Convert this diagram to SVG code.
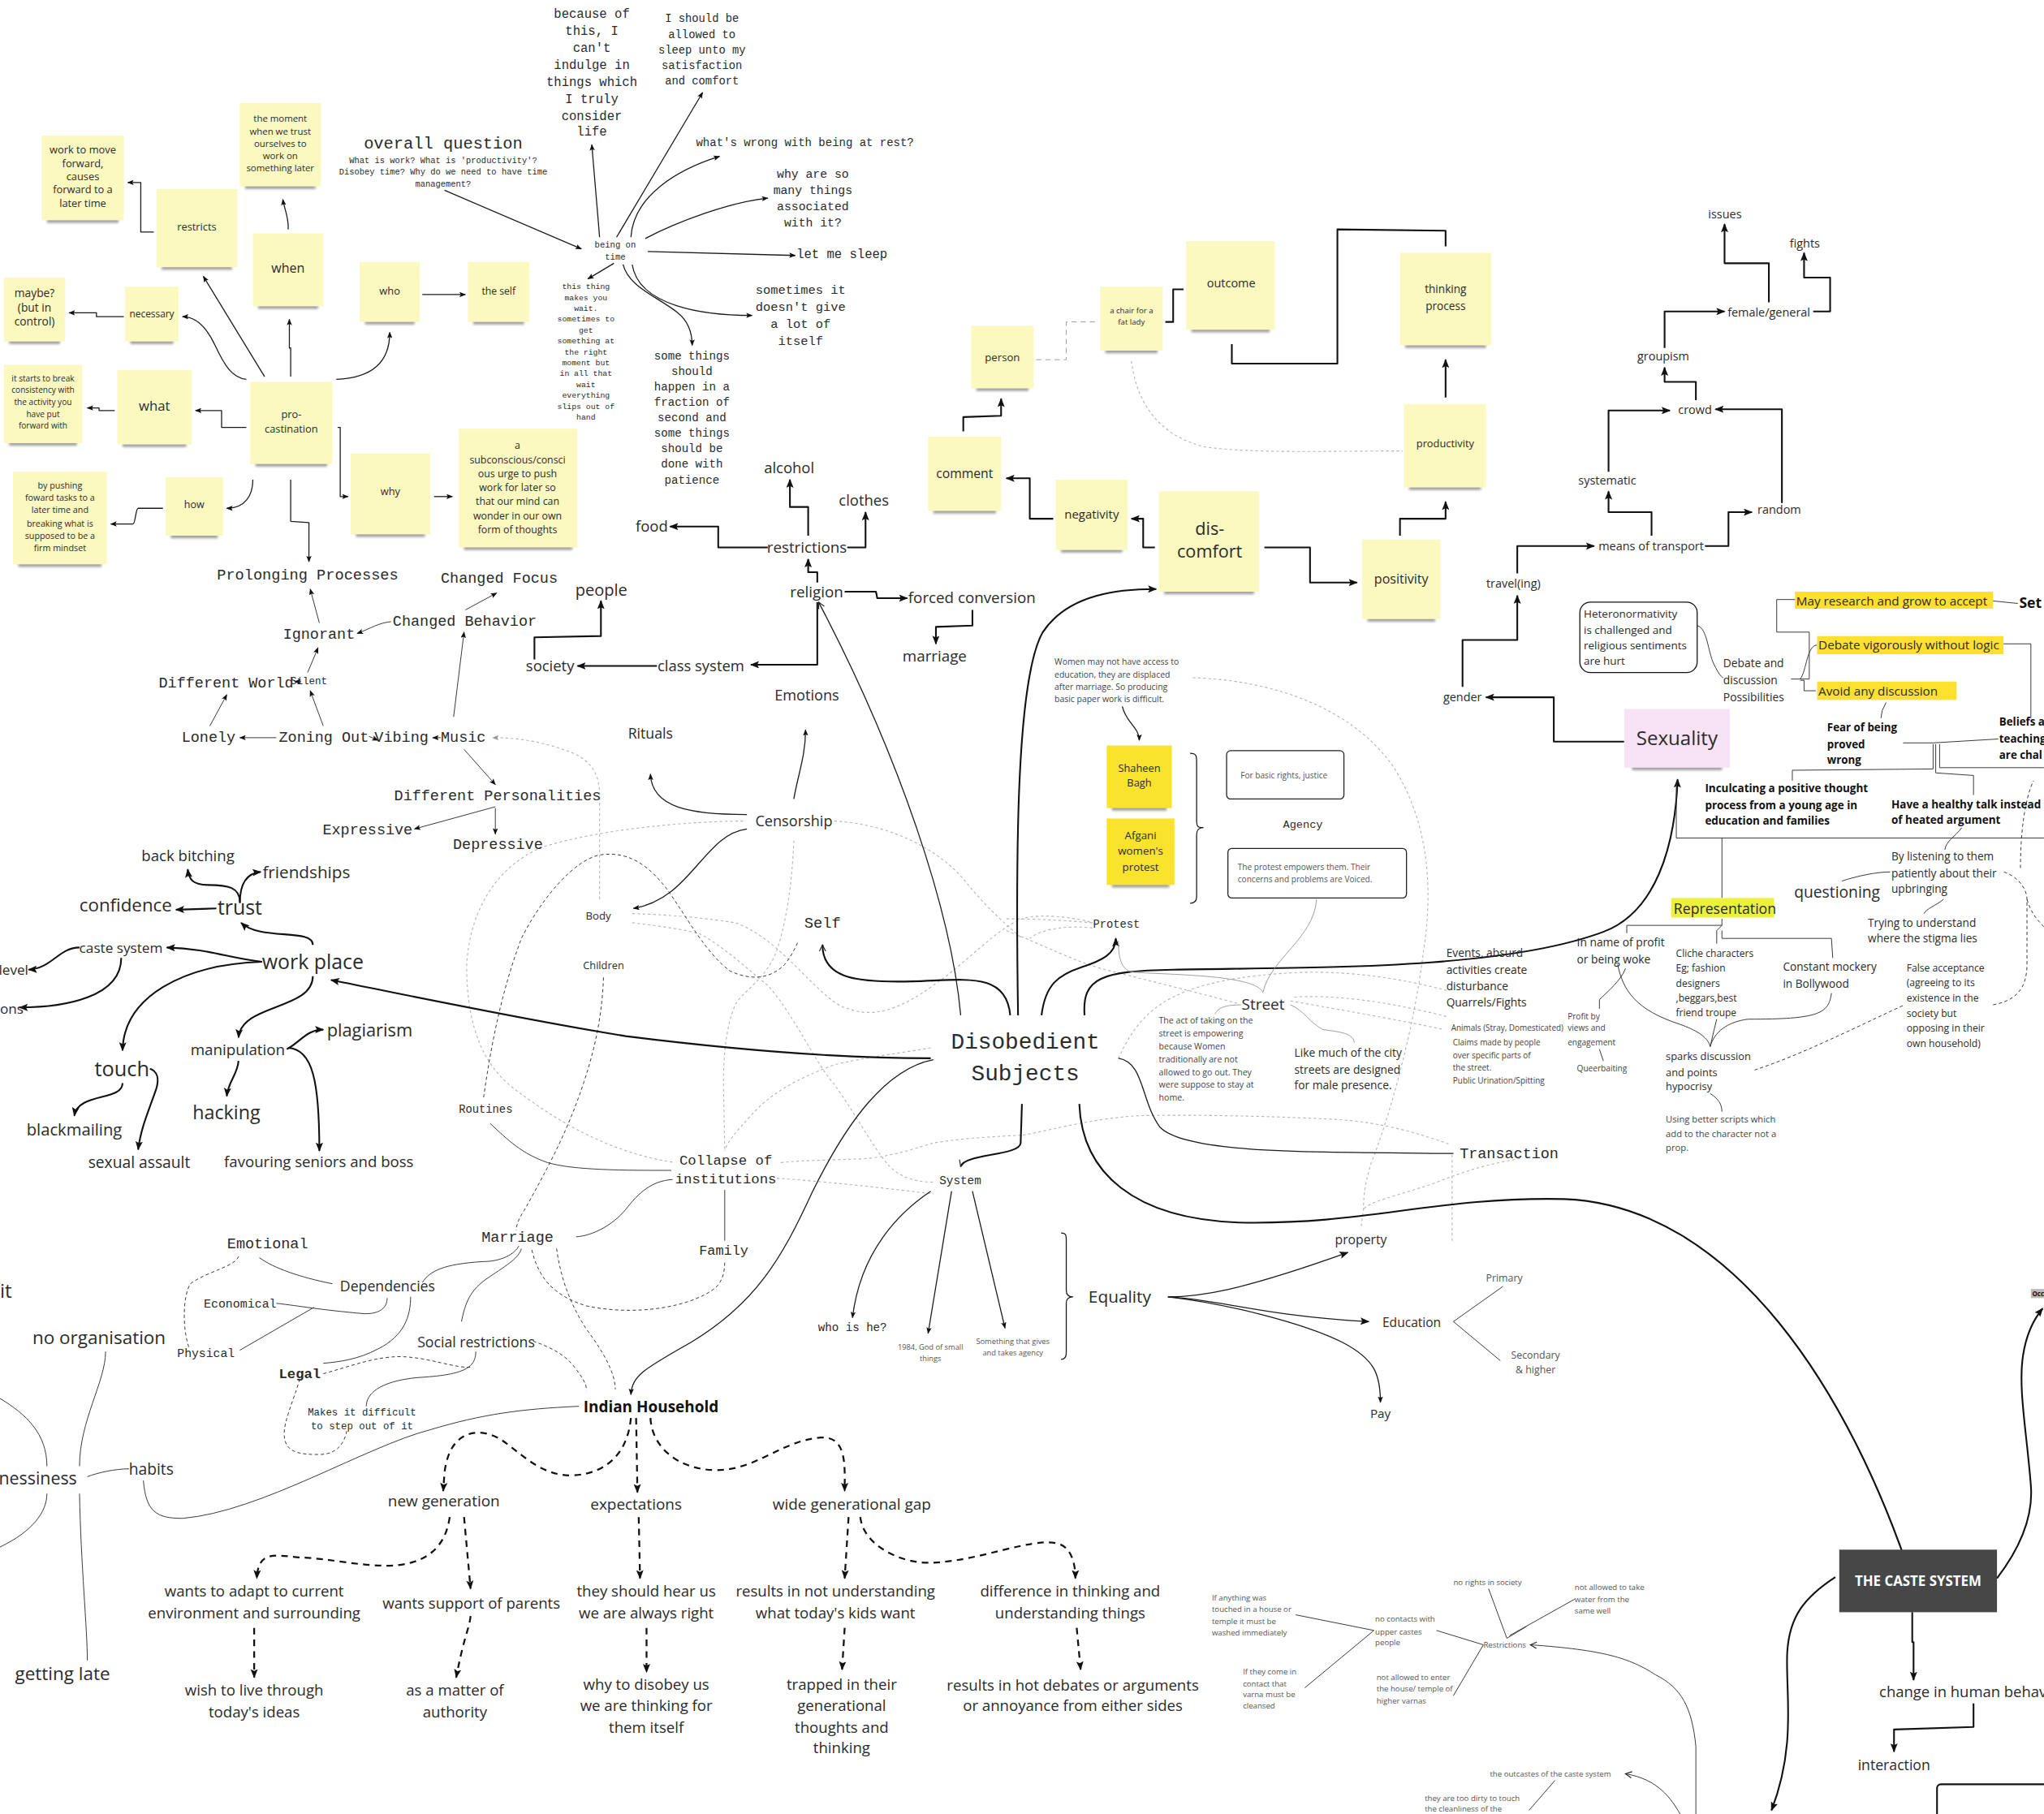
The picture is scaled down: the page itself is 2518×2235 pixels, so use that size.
<svg xmlns="http://www.w3.org/2000/svg" width="2518" height="2235" viewBox="0 0 2518 2235">
<defs>
<style>
.m{font-family:"Liberation Mono","DejaVu Sans Mono",monospace}
.s{font-family:"Open Sans","Noto Sans","Liberation Sans",sans-serif}
.c{text-anchor:middle}
.e{text-anchor:end}
.b{font-weight:bold;fill:#111}
.st{fill:#fbf8c0}
.sy{fill:#f9e32c}
.sh{fill:#555;opacity:.55;filter:url(#bl)}
.k{fill:none;stroke:#1a1a1a;stroke-width:.8;stroke-linejoin:round}
.t{fill:none;stroke:#111;stroke-width:1.3;stroke-linejoin:round}
.n{fill:none;stroke:#333;stroke-width:.6}
.g{fill:none;stroke:#b5b5b5;stroke-width:.7;stroke-dasharray:2 2}
.gs{fill:none;stroke:#9a9a9a;stroke-width:.6}
.d{fill:none;stroke:#333;stroke-width:.6;stroke-dasharray:2.5 2}
.bd{fill:none;stroke:#111;stroke-width:1.4;stroke-dasharray:5 4}
.hl{fill:#ffe02e}
</style>
<filter id="bl" x="-20%" y="-200%" width="140%" height="500%"><feGaussianBlur stdDeviation="1"/></filter>
<marker id="ah" viewBox="0 0 10 8" refX="9" refY="4" markerWidth="7" markerHeight="5.6" orient="auto" markerUnits="userSpaceOnUse"><path d="M0,0 L10,4 L0,8 L2,4 z" fill="#111"/></marker>
<marker id="as" viewBox="0 0 10 8" refX="9" refY="4" markerWidth="5" markerHeight="4" orient="auto" markerUnits="userSpaceOnUse"><path d="M0,0 L10,4 L0,8 L2,4 z" fill="#111"/></marker>
<marker id="ao" viewBox="0 0 10 10" refX="9" refY="5" markerWidth="6" markerHeight="6" orient="auto" markerUnits="userSpaceOnUse"><path d="M1,1 L9,5 L1,9" fill="none" stroke="#222" stroke-width="1.2"/></marker>
<marker id="ag" viewBox="0 0 10 8" refX="9" refY="4" markerWidth="5" markerHeight="4" orient="auto" markerUnits="userSpaceOnUse"><path d="M0,0 L10,4 L0,8 L2,4 z" fill="#999"/></marker>
</defs>
<rect width="2518" height="2235" fill="#fff"/>
<g transform="scale(1.6058)" fill="#2b2b2b">
<g id="connectors">
<!-- gray dotted background web -->
<path class="g" d="M640,630 C680,632 720,650 742,678 C760,700 775,712 784,720"/>
<path class="g" d="M570,630 C530,630 460,636 416,650 C380,665 360,700 358,741 C358,790 372,820 398,838 C430,862 470,885 518,892"/>
<path class="g" d="M609,645 C608,670 605,700 597,726 C590,750 570,760 564,771 C556,790 555,815 555,832 L556,883"/>
<path class="g" d="M485,701 C520,702 545,705 564,708 C600,720 630,770 651,774 C670,781 690,775 716,756 C740,740 765,712 784,705 C800,700 830,705 838,708"/>
<path class="g" d="M485,708 C510,711 530,714 538,717 C560,730 575,745 589,756 C610,780 625,815 640,832 C660,860 675,890 686,898 C695,905 705,907 716,907"/>
<path class="g" d="M714,804 C690,808 660,812 640,817 C610,828 590,840 576,856 C565,868 558,876 556,883"/>
<path class="g" d="M599,892 C620,890 640,890 665,889 C690,886 705,880 716,877 C740,873 765,872 784,871"/>
<path class="g" d="M596,904 C640,907 690,913 716,916"/>
<path class="g" d="M838,708 C815,706 795,705 772,705"/>
<path class="g" d="M838,712 C820,710 800,712 790,720"/>
<path class="g" d="M772,714 C800,725 825,738 848,744 C880,752 920,762 950,770"/>
<path class="g" d="M990,768 C1030,775 1070,782 1108,790"/>
<path class="g" d="M993,765 C1030,763 1070,770 1110,780"/>
<path class="g" d="M858,812 C868,790 880,775 900,765 C920,755 950,748 1000,746 C1040,745 1080,752 1110,760"/>
<path class="g" d="M915,520 C980,522 1040,545 1070,590 C1095,630 1100,680 1092,730 C1085,790 1065,860 1052,892 C1048,905 1046,915 1046,928 L1044,943"/>
<path class="g" d="M1114,886 L1114,953"/>
<path class="g" d="M1166,889 C1140,893 1120,900 1100,908 C1070,918 1050,922 1046,928"/>
<path class="g" d="M785,871 C810,866 840,858 874,856 C930,855 990,857 1026,859 C1060,861 1090,870 1112,878"/>
<path class="g" d="M868,277 C872,310 890,335 925,343 C960,348 1020,346 1076,346"/>
<path class="g" marker-end="url(#ag)" d="M460,690 L460,611 C460,595 455,585 440,578 C420,570 400,566 378,566"/>
<path class="d" d="M371,842 C377,800 385,760 400,720 C415,690 440,660 460,656 C485,652 500,668 510,680 C525,700 540,730 560,745 C575,752 590,752 602,740 C606,735 610,728 612,723"/>
<path class="d" d="M463,750 C462,775 458,800 448,830 C435,870 418,900 402,929 C398,935 396,940 396,944"/>
<!-- procrastination cluster -->
<path class="k" marker-end="url(#as)" d="M203,289 L156,212"/>
<path class="k" marker-end="url(#as)" d="M189,291 C178,290 172,280 165,265 C158,250 150,243 140,243"/>
<path class="k" marker-end="url(#as)" d="M95,243 L74,243 L74,240 L53,240"/>
<path class="k" marker-end="url(#as)" d="M118,178 L108,178 L108,140 L98,140"/>
<path class="k" marker-end="url(#as)" d="M223,289 L223,267 L222,267 L222,245"/>
<path class="k" marker-end="url(#as)" d="M221,176 C222,168 218,160 217,153"/>
<path class="k" marker-end="url(#as)" d="M258,291 C285,290 299,278 299,255"/>
<path class="k" marker-end="url(#as)" d="M324,226 L357,226"/>
<path class="k" marker-end="url(#as)" d="M189,328 L170,328 L170,315 L150,315"/>
<path class="k" marker-end="url(#as)" d="M88,315 L76,315 L76,313 L67,313"/>
<path class="k" marker-end="url(#as)" d="M194,368 C194,380 188,390 174,390"/>
<path class="k" marker-end="url(#as)" d="M125,390 L106,390 C104,390 104,402 102,402 L85,402"/>
<path class="k" marker-end="url(#as)" d="M259,328 L261,328 L261,381 L267,381"/>
<path class="k" marker-end="url(#as)" d="M333,381 L347,381"/>
<path class="k" marker-end="url(#as)" d="M223,368 L223,400 L237,401 L237,431"/>
<!-- being on time -->
<path class="k" marker-end="url(#as)" d="M341,146 L446,191"/>
<path class="k" marker-end="url(#as)" d="M460,182 L454,111"/>
<path class="k" marker-end="url(#as)" d="M473,182 L539,71"/>
<path class="k" marker-end="url(#as)" d="M484,182 C486,150 520,130 552,120"/>
<path class="k" marker-end="url(#as)" d="M495,183 C520,170 560,155 589,152"/>
<path class="k" marker-end="url(#as)" d="M497,193 L610,196"/>
<path class="k" marker-end="url(#as)" d="M485,203 C490,235 540,242 577,242"/>
<path class="k" marker-end="url(#as)" d="M478,203 C482,220 505,228 520,240 C530,248 531,258 531,265"/>
<path class="k" marker-end="url(#as)" d="M471,202 L451,214"/>
<!-- mono cluster -->
<path class="n" marker-end="url(#as)" d="M245,478 L238,452"/>
<path class="n" marker-end="url(#as)" d="M300,477 C290,478 285,482 274,486"/>
<path class="n" marker-end="url(#as)" d="M357,468 L381,455"/>
<path class="n" marker-end="url(#as)" d="M236,516 L244,497"/>
<path class="n" marker-end="url(#as)" d="M231,523 L226,523"/>
<path class="n" marker-end="url(#as)" d="M248,557 L238,530"/>
<path class="n" marker-end="url(#as)" d="M161,557 L174,533"/>
<path class="n" marker-end="url(#as)" d="M212,566 L184,566"/>
<path class="n" marker-end="url(#as)" d="M283,565 L290,568"/>
<path class="n" marker-end="url(#as)" d="M338,566 L332,566"/>
<path class="n" marker-end="url(#as)" d="M348,550 L356,485"/>
<path class="n" marker-end="url(#as)" d="M356,575 L380,602"/>
<path class="n" marker-end="url(#as)" d="M380,619 L318,636"/>
<path class="n" marker-end="url(#as)" d="M380,620 L380,640"/>
<!-- work place -->
<path class="t" marker-end="url(#ah)" d="M240,725 C240,712 200,722 185,708"/>
<path class="t" marker-end="url(#ah)" d="M184,692 C184,681 175,679 160,679 C148,679 145,675 144,667"/>
<path class="t" marker-end="url(#ah)" d="M184,693 C184,680 188,670 200,669"/>
<path class="t" marker-end="url(#ah)" d="M166,697 L135,698"/>
<path class="t" marker-end="url(#ah)" d="M201,738 C175,735 160,728 128,727"/>
<path class="t" marker-end="url(#ah)" d="M61,727 C45,727 40,743 22,744"/>
<path class="t" marker-end="url(#ah)" d="M93,735 C93,765 50,773 15,773"/>
<path class="t" marker-end="url(#ah)" d="M201,738 C140,740 95,765 94,806"/>
<path class="t" marker-end="url(#ah)" d="M240,749 C240,775 185,770 183,796"/>
<path class="t" marker-end="url(#ah)" d="M220,805 C230,800 235,790 248,790"/>
<path class="t" marker-end="url(#ah)" d="M183,814 C182,825 175,830 174,841"/>
<path class="t" marker-end="url(#ah)" d="M221,804 C240,805 245,830 245,883"/>
<path class="t" marker-end="url(#ah)" d="M94,831 C94,845 60,838 57,856"/>
<path class="t" marker-end="url(#ah)" d="M115,820 C121,822 122,828 120,835 C115,850 108,865 106,882"/>
<path class="t" marker-end="url(#ah)" d="M714,812 C640,812 560,805 480,795 C400,782 320,765 254,752"/>
<!-- religion -->
<path class="t" marker-end="url(#ah)" d="M589,420 L551,420 L551,404 L514,404"/>
<path class="t" marker-end="url(#ah)" d="M620,411 L620,389 L606,389 L606,368"/>
<path class="t" marker-end="url(#ah)" d="M650,420 L664,420 L664,393"/>
<path class="t" marker-end="url(#ah)" d="M627,447 L627,439 L620,439 L620,429"/>
<path class="t" marker-end="url(#ah)" d="M648,454 L672,454 L673,459 L696,459"/>
<path class="t" marker-end="url(#ah)" d="M746,468 L746,480 L718,481 L718,494"/>
<path class="t" marker-end="url(#ah)" d="M627,462 L627,510 L576,510"/>
<path class="t" marker-end="url(#ah)" d="M504,511 L443,511"/>
<path class="t" marker-end="url(#ah)" d="M410,506 L410,489 L461,488 L461,461"/>
<path class="k" marker-end="url(#ao)" d="M737,779 C730,700 690,580 628,462"/>
<!-- censorship / center -->
<path class="k" marker-end="url(#as)" d="M573,625 C530,625 500,620 499,594"/>
<path class="k" marker-end="url(#as)" d="M609,613 C612,595 618,580 618,560"/>
<path class="k" marker-end="url(#as)" d="M573,636 C540,640 530,690 486,697"/>
<path class="t" marker-end="url(#ao)" d="M775,779 C772,745 740,752 700,753 C660,754 631,752 631,725"/>
<path class="t" marker-end="url(#ah)" d="M799,779 C802,755 812,748 830,742 C845,737 856,732 856,720"/>
<path class="t" marker-end="url(#ah)" d="M781,779 C779,650 780,520 800,485 C820,455 860,452 887,452"/>
<path class="t" marker-end="url(#ah)" d="M832,779 C830,750 845,745 900,744 C1000,742 1150,745 1230,715 C1270,700 1285,650 1287,598"/>
<path class="t" marker-end="url(#ao)" d="M784,847 L783,877 C782,887 740,885 737,895"/>
<path class="t" marker-end="url(#ah)" d="M828,847 C830,900 870,935 950,938 C1050,940 1100,918 1200,920 C1330,925 1420,1070 1467,1213"/>
<path class="k" marker-end="url(#as)" d="M716,813 C680,820 650,860 623,915 C600,965 580,1000 530,1030 C495,1050 485,1055 484,1070"/>
<path class="k" d="M858,812 C878,815 875,845 890,865 C910,885 1000,884 1115,885"/>
<!-- street / protest -->
<path class="gs" d="M969,762 C965,748 900,748 870,746 C860,745 858,735 858,722"/>
<path class="gs" d="M1010,690 C1008,720 975,735 969,761"/>
<path class="gs" d="M952,771 C940,771 935,773 932,778"/>
<path class="gs" d="M990,771 C1000,775 1005,785 1015,790 C1030,792 1038,793 1039,800"/>
<path class="k" marker-end="url(#as)" d="M861,542 C864,555 874,558 874,568"/>
<path class="k" d="M913,578 C918,578 918,580 918,585 L918,630 C918,635 920,635 923,635 C920,635 918,636 918,641 L918,688 C918,692 916,693 913,693"/>
<!-- system / equality -->
<path class="k" marker-end="url(#as)" d="M714,914 C690,930 660,960 654,1011"/>
<path class="k" marker-end="url(#as)" d="M730,914 L712,1023"/>
<path class="k" marker-end="url(#as)" d="M746,914 L771,1019"/>
<path class="k" d="M814,946 C818,946 818,948 818,952 L818,990 C818,994 820,995 823,995 C820,995 818,996 818,1000 L818,1038 C818,1042 816,1043 814,1043"/>
<path class="k" marker-end="url(#ah)" d="M896,995 C920,995 950,991 1034,961"/>
<path class="k" marker-end="url(#ah)" d="M896,995 C930,996 970,1010 1050,1014"/>
<path class="k" marker-end="url(#as)" d="M896,995 C940,1000 1000,1015 1030,1030 C1055,1043 1059,1055 1059,1076"/>
<path class="n" d="M1153,987 L1115,1014 L1151,1044"/>
<!-- transport -->
<path class="t" marker-end="url(#ah)" d="M1246,569 L1192,569 L1192,535 L1140,535"/>
<path class="t" marker-end="url(#ah)" d="M1122,527 L1122,491 L1164,491 L1164,457"/>
<path class="t" marker-end="url(#ah)" d="M1164,440 L1164,419 L1223,419"/>
<path class="t" marker-end="url(#ah)" d="M1267,411 L1267,393 L1234,393 L1234,377"/>
<path class="t" marker-end="url(#ah)" d="M1308,419 L1326,419 L1326,393 L1344,393"/>
<path class="t" marker-end="url(#ah)" d="M1234,362 L1234,315 L1281,315"/>
<path class="t" marker-end="url(#ah)" d="M1367,386 L1367,314 L1316,314"/>
<path class="t" marker-end="url(#ah)" d="M1301,307 L1301,293 L1277,293 L1277,282"/>
<path class="t" marker-end="url(#ah)" d="M1277,267 L1277,239 L1323,239"/>
<path class="t" marker-end="url(#ah)" d="M1357,232 L1357,202 L1323,202 L1323,172"/>
<path class="t" marker-end="url(#ah)" d="M1391,239 L1404,239 L1404,213 L1384,213 L1384,194"/>
<!-- discomfort chain -->
<path class="t" marker-end="url(#ah)" d="M739,331 L739,320 L768,319 L768,306"/>
<path class="t" marker-end="url(#ah)" d="M808,398 L790,398 L790,367 L772,367"/>
<path class="t" marker-end="url(#ah)" d="M886,420 L877,420 L877,398 L868,398"/>
<path class="t" marker-end="url(#ah)" d="M970,420 L1005,420 L1005,447 L1041,447"/>
<path class="t" marker-end="url(#ah)" d="M1074,411 L1074,398 L1109,398 L1109,385"/>
<path class="t" marker-end="url(#ah)" d="M1109,305 L1109,276"/>
<path class="t" d="M1109,189 L1109,177 L1026,176 L1026,279 L945,279 L945,264"/>
<path class="t" d="M894,247 L900,247 L900,222 L908,222"/>
<path class="gs" stroke-dasharray="4 3" d="M795,276 L818,276 L818,247 L842,247"/>
<!-- sexuality side -->
<path class="n" d="M1302,480 C1310,482 1310,500 1315,510 C1318,516 1320,519 1322,520"/>
<path class="n" d="M1374,521 L1388,521 L1388,485 L1363,485 L1363,460 L1378,460"/>
<path class="n" d="M1381,521 C1386,515 1386,495 1394,495"/>
<path class="n" d="M1381,522 L1384,522 L1384,530 L1393,530"/>
<path class="n" d="M1528,461 L1548,463"/>
<path class="n" d="M1537,494 L1558,494 L1558,551"/>
<path class="n" d="M1447,539 L1444,545 L1443,551"/>
<path class="n" d="M1460,570 L1483,570 L1533,567"/>
<path class="n" d="M1483,571 L1483,590 L1375,591 L1375,599"/>
<path class="n" d="M1488,571 L1488,589 L1568,589"/>
<path class="n" d="M1485,571 L1485,593 L1514,595 L1514,610"/>
<path class="n" d="M1286,600 L1286,643 L1568,643"/>
<path class="n" d="M1321,643 L1321,689"/>
<path class="n" d="M1505,635 C1500,642 1493,645 1492,652"/>
<path class="n" d="M1413,676 C1425,672 1440,669 1450,669"/>
<path class="n" d="M1491,690 C1485,695 1478,697 1476,701"/>
<path class="n" d="M1321,705 L1321,710 L1248,710 L1248,716"/>
<path class="n" d="M1321,710 L1317,714 L1317,724"/>
<path class="n" d="M1321,714 L1321,720 L1405,720 L1406,735"/>
<path class="n" d="M1247,743 C1244,752 1232,762 1227,767 L1227,774"/>
<path class="n" d="M1227,805 L1230,814"/>
<path class="n" d="M1241,740 C1245,760 1255,775 1289,786 C1300,790 1310,795 1312,803"/>
<path class="n" d="M1317,782 L1315,790 L1312,803"/>
<path class="n" d="M1405,762 C1403,778 1395,782 1341,782 C1325,784 1315,792 1312,803"/>
<path class="n" d="M1312,839 C1318,843 1321,847 1321,853"/>
<path class="d" d="M1346,821 C1380,810 1420,790 1461,771"/>
<path class="d" d="M1529,771 C1545,768 1555,760 1555,740 L1555,690 C1555,680 1545,671 1537,669"/>
<path class="d" d="M1550,666 C1550,640 1553,614 1560,599"/>
<path class="d" d="M1555,690 C1558,700 1562,705 1568,711"/>
<!-- left bottom -->
<path class="n" d="M61,1125 C61,1090 81,1060 81,1037"/>
<path class="n" d="M61,1146 C62,1200 67,1250 67,1274"/>
<path class="n" d="M0,1073 C20,1085 36,1100 36,1125"/>
<path class="n" d="M36,1146 C36,1160 25,1175 0,1187"/>
<path class="n" d="M67,1133 C75,1130 88,1127 99,1127"/>
<path class="n" d="M110,1136 C112,1160 120,1165 140,1165 C200,1160 280,1110 330,1097 C370,1085 400,1081 444,1079"/>
<path class="n" d="M199,965 C210,973 230,980 255,985"/>
<path class="n" d="M212,1000 C230,1002 245,1005 280,1008 C292,1008 297,1003 297,996"/>
<path class="n" d="M184,1036 L241,1003"/>
<path class="n" d="M248,1046 C260,1045 275,1043 290,1035 C310,1025 315,1010 315,995"/>
<path class="n" d="M324,984 C330,975 340,970 370,968 C385,968 395,962 398,956"/>
<path class="n" d="M354,1014 C357,1000 360,990 375,980 C390,970 398,965 400,958"/>
<path class="n" d="M365,1037 C365,1050 355,1055 320,1057 C290,1060 281,1070 281,1079"/>
<path class="d" d="M183,964 C180,972 160,975 146,985 C140,995 140,1020 145,1034"/>
<path class="d" d="M248,1054 C270,1048 290,1040 310,1041 C330,1042 350,1050 361,1049"/>
<path class="d" d="M230,1058 C225,1075 218,1090 218,1100 C218,1115 230,1116 245,1116 C258,1116 264,1108 266,1098"/>
<path class="n" d="M376,862 C390,875 400,885 420,892 C440,898 480,898 515,898"/>
<path class="n" d="M516,905 C500,906 490,915 480,928 C470,940 455,948 442,949"/>
<path class="n" d="M556,913 L556,952"/>
<path class="d" d="M408,959 C413,980 424,994 450,1002 C488,1010 530,1003 549,988 C555,982 556,975 556,967"/>
<path class="d" d="M427,958 C430,980 437,1000 450,1020 C465,1040 472,1055 472,1066"/>
<path class="d" d="M409,1029 C420,1033 432,1038 440,1048 C447,1057 450,1062 450,1067"/>
<!-- indian household dashed -->
<path class="bd" marker-end="url(#ah)" d="M484,1088 C482,1110 470,1130 440,1132 C415,1133 400,1115 385,1105 C370,1095 345,1095 341,1130 L340,1144"/>
<path class="bd" marker-end="url(#ah)" d="M488,1088 L489,1145"/>
<path class="bd" marker-end="url(#ah)" d="M499,1088 C500,1110 520,1128 550,1128 C580,1128 600,1105 630,1103 C650,1102 648,1125 648,1144"/>
<path class="bd" marker-end="url(#ah)" d="M345,1164 C342,1185 330,1198 305,1201 C280,1203 250,1195 229,1195 C210,1193 198,1190 197,1211"/>
<path class="bd" marker-end="url(#ah)" d="M356,1164 L361,1219"/>
<path class="bd" marker-end="url(#ah)" d="M195,1249 L195,1287"/>
<path class="bd" marker-end="url(#ah)" d="M361,1240 C360,1250 356,1255 350,1287"/>
<path class="bd" marker-end="url(#ah)" d="M490,1164 L491,1211"/>
<path class="bd" marker-end="url(#ah)" d="M496,1249 L496,1283"/>
<path class="bd" marker-end="url(#ah)" d="M651,1164 L648,1211"/>
<path class="bd" marker-end="url(#ah)" d="M648,1249 L646,1281"/>
<path class="bd" marker-end="url(#ah)" d="M660,1164 C662,1185 690,1200 715,1199 C750,1198 790,1180 810,1184 C822,1186 825,1200 825,1211"/>
<path class="bd" marker-end="url(#ah)" d="M826,1249 L829,1281"/>
<!-- caste -->
<path class="n" d="M994,1239 L1054,1251"/>
<path class="n" d="M1001,1295 L1054,1251"/>
<path class="n" d="M1102,1251 L1138,1262"/>
<path class="n" d="M1115,1301 L1138,1262"/>
<path class="n" d="M1142,1219 L1156,1257 L1171,1248"/>
<path class="n" d="M1158,1255 L1208,1227"/>
<path class="n" marker-end="url(#ao)" d="M1301,1392 L1301,1340 C1298,1310 1290,1295 1270,1285 C1250,1272 1230,1266 1174,1262"/>
<path class="n" marker-end="url(#ao)" d="M1289,1392 C1282,1380 1272,1365 1247,1361"/>
<path class="n" d="M1193,1366 L1173,1389"/>
<path class="t" marker-end="url(#ah)" d="M1467,1237 L1467,1260 L1468,1260 L1468,1289"/>
<path class="t" marker-end="url(#ah)" d="M1514,1307 L1514,1325 L1453,1327 L1453,1344"/>
<path class="t" marker-end="url(#ah)" d="M1408,1210 C1385,1225 1372,1240 1371,1270 C1370,1300 1378,1340 1359,1389"/>
<path class="t" marker-end="url(#ah)" d="M1532,1211 C1548,1190 1560,1165 1558,1140 C1555,1100 1548,1065 1552,1040 C1555,1020 1562,1010 1567,1004"/>
</g>

<!-- sticky notes: procrastination -->
<g id="n-work"><rect class="sh" x="36" y="167" width="55" height="4"/><rect class="st" x="32" y="104" width="63" height="65"/><text class="s c" font-size="8"><tspan x="63.5" y="118">work to move</tspan><tspan x="63.5" y="128">forward,</tspan><tspan x="63.5" y="138.5">causes</tspan><tspan x="63.5" y="148">forward to a</tspan><tspan x="63.5" y="158.5">later time</tspan></text></g>
<g id="n-restricts"><rect class="sh" x="124" y="203" width="54" height="4"/><rect class="st" x="120" y="145" width="62" height="60"/><text class="s c" x="151" y="177" font-size="8">restricts</text></g>
<g id="n-moment"><rect class="sh" x="188" y="141" width="54" height="4"/><rect class="st" x="184" y="79" width="62" height="64"/><text class="s c" font-size="7.1"><tspan x="215" y="93.4">the moment</tspan><tspan x="215" y="103.2">when we trust</tspan><tspan x="215" y="112.7">ourselves to</tspan><tspan x="215" y="122.3">work on</tspan><tspan x="215" y="131.5">something later</tspan></text></g>
<g id="n-when"><rect class="sh" x="198" y="233" width="46" height="4"/><rect class="st" x="194" y="179" width="54" height="56"/><text class="s c" x="221" y="209" font-size="10">when</text></g>
<g id="n-who"><rect class="sh" x="280" y="245" width="38" height="4"/><rect class="st" x="276" y="201" width="46" height="46"/><text class="s c" x="299" y="226" font-size="8">who</text></g>
<g id="n-self"><rect class="sh" x="363" y="245" width="39" height="4"/><rect class="st" x="359" y="201" width="47" height="46"/><text class="s c" x="382.5" y="226" font-size="7.6">the self</text></g>
<g id="n-maybe"><rect class="sh" x="7" y="260" width="39" height="4"/><rect class="st" x="3" y="213" width="47" height="49"/><text class="s c" font-size="8.6"><tspan x="26.5" y="228">maybe?</tspan><tspan x="26.5" y="239">(but in</tspan><tspan x="26.5" y="250">control)</tspan></text></g>
<g id="n-necessary"><rect class="sh" x="100" y="260" width="33" height="4"/><rect class="st" x="96" y="220" width="41" height="42"/><text class="s c" x="116.5" y="243.3" font-size="7.4">necessary</text></g>
<g id="n-breaks"><rect class="sh" x="7" y="338" width="52" height="4"/><rect class="st" x="3" y="280" width="60" height="60"/><text class="s c" font-size="6.3"><tspan x="33" y="292.6">it starts to break</tspan><tspan x="33" y="301.6">consistency with</tspan><tspan x="33" y="310.8">the activity you</tspan><tspan x="33" y="320.1">have put</tspan><tspan x="33" y="329">forward with</tspan></text></g>
<g id="n-what"><rect class="sh" x="94" y="339" width="49" height="4"/><rect class="st" x="90" y="284" width="57" height="57"/><text class="s c" x="118.5" y="315" font-size="10.4">what</text></g>
<g id="n-pro"><rect class="sh" x="196" y="354" width="55" height="4"/><rect class="st" x="192" y="293" width="63" height="63"/><text class="s c" font-size="8"><tspan x="223.5" y="320.8">pro-</tspan><tspan x="223.5" y="331.8">castination</tspan></text></g>
<g id="n-pushing"><rect class="sh" x="14" y="431" width="64" height="4"/><rect class="st" x="10" y="362" width="72" height="71"/><text class="s c" font-size="6.7"><tspan x="46" y="374.7">by pushing</tspan><tspan x="46" y="384.2">foward tasks to a</tspan><tspan x="46" y="393.7">later time and</tspan><tspan x="46" y="403.9">breaking what is</tspan><tspan x="46" y="413.4">supposed to be a</tspan><tspan x="46" y="422.9">firm mindset</tspan></text></g>
<g id="n-how"><rect class="sh" x="131" y="409" width="36" height="4"/><rect class="st" x="127" y="366" width="44" height="45"/><text class="s c" x="149" y="390" font-size="7.8">how</text></g>
<g id="n-why"><rect class="sh" x="273" y="408" width="53" height="4"/><rect class="st" x="269" y="348" width="61" height="62"/><text class="s c" x="299.5" y="380" font-size="8">why</text></g>
<g id="n-urge"><rect class="sh" x="356" y="418" width="83" height="4"/><rect class="st" x="352" y="329" width="91" height="91"/><text class="s c" font-size="7.7"><tspan x="397" y="344.4">a</tspan><tspan x="397" y="355.4">subconscious/consci</tspan><tspan x="397" y="366.1">ous urge to push</tspan><tspan x="397" y="376.9">work for later so</tspan><tspan x="397" y="387.6">that our mind can</tspan><tspan x="397" y="398.3">wonder in  our own</tspan><tspan x="397" y="409">form of thoughts</tspan></text></g>

<!-- sticky notes: discomfort -->
<g id="n-person"><rect class="sh" x="749" y="296" width="40" height="4"/><rect class="st" x="745" y="250" width="48" height="48"/><text class="s c" x="769" y="277" font-size="8.2">person</text></g>
<g id="n-comment"><rect class="sh" x="716" y="390" width="48" height="4"/><rect class="st" x="712" y="335" width="56" height="57"/><text class="s c" x="740" y="366.5" font-size="9.8">comment</text></g>
<g id="n-chair"><rect class="sh" x="848" y="267" width="40" height="4"/><rect class="st" x="844" y="220" width="48" height="49"/><text class="s c" font-size="6"><tspan x="868" y="240.4">a chair for a</tspan><tspan x="868" y="249.4">fat lady</tspan></text></g>
<g id="n-outcome"><rect class="sh" x="914" y="251" width="60" height="4"/><rect class="st" x="910" y="185" width="68" height="68"/><text class="s c" x="944.5" y="220.7" font-size="9">outcome</text></g>
<g id="n-thinking"><rect class="sh" x="1078" y="263" width="62" height="4"/><rect class="st" x="1074" y="194" width="70" height="71"/><text class="s c" font-size="8.5"><tspan x="1109" y="225">thinking</tspan><tspan x="1109" y="237.7">process</tspan></text></g>
<g id="n-productivity"><rect class="sh" x="1081" y="372" width="55" height="4"/><rect class="st" x="1077" y="310" width="63" height="64"/><text class="s c" x="1108.7" y="343" font-size="8">productivity</text></g>
<g id="n-negativity"><rect class="sh" x="814" y="420" width="47" height="4"/><rect class="st" x="810" y="368" width="55" height="54"/><text class="s c" x="837.5" y="398" font-size="9.3">negativity</text></g>
<g id="n-discomfort"><rect class="sh" x="893" y="452" width="69" height="4"/><rect class="st" x="889" y="377" width="77" height="77"/><text class="s c" font-size="13.5"><tspan x="928" y="410.5">dis-</tspan><tspan x="928" y="427.8">comfort</tspan></text></g>
<g id="n-positivity"><rect class="sh" x="1049" y="473" width="52" height="4"/><rect class="st" x="1045" y="414" width="60" height="61"/><text class="s c" x="1075" y="447.5" font-size="10">positivity</text></g>

<!-- protest -->
<g id="n-shaheen"><rect class="sh" x="853" y="618" width="42" height="4"/><rect class="sy" x="849" y="572" width="50" height="48"/><text class="s c" font-size="8"><tspan x="874" y="592.2">Shaheen</tspan><tspan x="874" y="603.7">Bagh</tspan></text></g>
<g id="n-afgani"><rect class="sh" x="853" y="677" width="44" height="4"/><rect class="sy" x="849" y="628" width="52" height="51"/><text class="s c" font-size="8.3"><tspan x="875" y="643.9">Afgani</tspan><tspan x="875" y="655.7">women's</tspan><tspan x="875" y="667.9">protest</tspan></text></g>
<g id="n-women"><text class="s" font-size="6.5" fill="#444"><tspan x="809" y="510.2">Women may not have access to</tspan><tspan x="809" y="519.7">education, they are displaced</tspan><tspan x="809" y="529.2">after marriage. So producing</tspan><tspan x="809" y="538.5">basic paper work is difficult.</tspan></text></g>
<g id="n-rights"><rect x="941" y="576" width="90" height="37" rx="3" fill="#fff" stroke="#222" stroke-width=".8"/><text class="s c" x="985" y="597" font-size="6.3" fill="#555">For basic rights, justice</text></g>
<g id="n-agency"><text class="m c" x="999.5" y="635" font-size="8.5">Agency</text></g>
<g id="n-voiced"><rect x="942" y="651" width="137" height="38" rx="3" fill="#fff" stroke="#222" stroke-width=".8"/><text class="s" font-size="6.3" fill="#555"><tspan x="949.5" y="667.4">The protest empowers them. Their</tspan><tspan x="949.5" y="677">concerns and problems are Voiced.</tspan></text></g>
<g id="n-protest"><text class="m c" x="856.5" y="711.5" font-size="8.6">Protest</text></g>
<g id="n-street"><text class="s c" x="969" y="775" font-size="11.8">Street</text></g>
<g id="n-act"><text class="s" font-size="6.6" fill="#444"><tspan x="889" y="785.2">The act of taking on the</tspan><tspan x="889" y="795.2">street is empowering</tspan><tspan x="889" y="805.2">because Women</tspan><tspan x="889" y="815.2">traditionally are not</tspan><tspan x="889" y="825.2">allowed to go out. They</tspan><tspan x="889" y="834.2">were suppose to stay at</tspan><tspan x="889" y="844.2">home.</tspan></text></g>
<g id="n-like"><text class="s" font-size="8.6"><tspan x="993" y="811">Like much of the city</tspan><tspan x="993" y="824">streets are designed</tspan><tspan x="993" y="836">for male presence.</tspan></text></g>
<g id="n-events"><text class="s" font-size="8.6"><tspan x="1109.5" y="734.5">Events, absurd</tspan><tspan x="1109.5" y="747.2">activities create</tspan><tspan x="1109.5" y="759.6">disturbance</tspan><tspan x="1109.5" y="772">Quarrels/Fights</tspan></text></g>
<g id="n-animals"><text class="s" font-size="6.2" fill="#444"><tspan x="1113.3" y="791">Animals (Stray, Domesticated)</tspan><tspan x="1114.6" y="802">Claims made by people</tspan><tspan x="1114.6" y="812">over specific parts of</tspan><tspan x="1114.6" y="821.7">the street.</tspan><tspan x="1114.6" y="831.3">Public Urination/Spitting</tspan></text></g>
<g id="n-transaction"><text class="m c" x="1157.7" y="888.5" font-size="11.5">Transaction</text></g>

<!-- top text cluster -->
<g id="n-overall"><text class="m c" x="340" y="114" font-size="12.7">overall question</text><text class="m c" font-size="6.5"><tspan x="340" y="125">What is work? What is 'productivity'?</tspan><tspan x="340" y="134">Disobey time? Why do we need to have time</tspan><tspan x="340" y="143">management?</tspan></text></g>
<g id="n-beingontime"><text class="m c" font-size="6.6"><tspan x="472" y="190">being on</tspan><tspan x="472" y="199">time</tspan></text></g>
<g id="n-because"><text class="m c" font-size="9.7"><tspan x="454" y="14">because of</tspan><tspan x="454" y="27">this, I</tspan><tspan x="454" y="40">can't</tspan><tspan x="454" y="53">indulge in</tspan><tspan x="454" y="66">things which</tspan><tspan x="454" y="79">I truly</tspan><tspan x="454" y="92">consider</tspan><tspan x="454" y="104">life</tspan></text></g>
<g id="n-ishould"><text class="m c" font-size="8.6"><tspan x="538.5" y="17">I should be</tspan><tspan x="538.5" y="29">allowed to</tspan><tspan x="538.5" y="41">sleep unto my</tspan><tspan x="538.5" y="53">satisfaction</tspan><tspan x="538.5" y="65">and comfort</tspan></text></g>
<g id="n-rest"><text class="m" x="534" y="112" font-size="8.7">what's wrong with being at rest?</text></g>
<g id="n-whyso"><text class="m c" font-size="9.2"><tspan x="623.6" y="136.4">why are so</tspan><tspan x="623.6" y="148.9">many things</tspan><tspan x="623.6" y="161.1">associated</tspan><tspan x="623.6" y="173.6">with it?</tspan></text></g>
<g id="n-letme"><text class="m" x="611" y="198.3" font-size="9.7">let me sleep</text></g>
<g id="n-sometimes"><text class="m c" font-size="9.6"><tspan x="614.2" y="225.2">sometimes it</tspan><tspan x="614.2" y="238.6">doesn't give</tspan><tspan x="614.2" y="251.4">a lot of</tspan><tspan x="614.2" y="264.6">itself</tspan></text></g>
<g id="n-somethings"><text class="m c" font-size="8.8"><tspan x="530.8" y="275.6">some things</tspan><tspan x="530.8" y="287.5">should</tspan><tspan x="530.8" y="299.4">happen in a</tspan><tspan x="530.8" y="311.3">fraction of</tspan><tspan x="530.8" y="323.2">second and</tspan><tspan x="530.8" y="335.2">some things</tspan><tspan x="530.8" y="347.1">should be</tspan><tspan x="530.8" y="359">done with</tspan><tspan x="530.8" y="370.9">patience</tspan></text></g>
<g id="n-wait"><text class="m c" font-size="6.1"><tspan x="449.5" y="221.8">this thing</tspan><tspan x="449.5" y="230.2">makes you</tspan><tspan x="449.5" y="238.5">wait.</tspan><tspan x="449.5" y="246.9">sometimes to</tspan><tspan x="449.5" y="255.2">get</tspan><tspan x="449.5" y="263.6">something at</tspan><tspan x="449.5" y="271.9">the right</tspan><tspan x="449.5" y="280.2">moment but</tspan><tspan x="449.5" y="288.6">in all that</tspan><tspan x="449.5" y="296.9">wait</tspan><tspan x="449.5" y="305.3">everything</tspan><tspan x="449.5" y="313.6">slips out of</tspan><tspan x="449.5" y="322">hand</tspan></text></g>

<!-- mono middle-left -->
<g id="n-prolonging"><text class="m c" x="236" y="444.5" font-size="11.6">Prolonging Processes</text></g>
<g id="n-focus"><text class="m c" x="383" y="447" font-size="11.5">Changed Focus</text></g>
<g id="n-ignorant"><text class="m c" x="244.7" y="490" font-size="11.5">Ignorant</text></g>
<g id="n-behavior"><text class="m c" x="356.5" y="480" font-size="11.5">Changed Behavior</text></g>
<g id="n-world"><text class="m c" x="173.5" y="527.5" font-size="11.5">Different World</text></g>
<g id="n-silent"><text class="m c" x="237" y="525" font-size="7.8">Silent</text></g>
<g id="n-lonely"><text class="m c" x="160" y="569" font-size="11.5">Lonely</text></g>
<g id="n-zoning"><text class="m c" x="248.4" y="569" font-size="11.5">Zoning Out</text></g>
<g id="n-vibing"><text class="m c" x="308" y="569" font-size="11.5">Vibing</text></g>
<g id="n-music"><text class="m c" x="355.4" y="569" font-size="11.5">Music</text></g>
<g id="n-personalities"><text class="m c" x="381.7" y="614" font-size="11.5">Different Personalities</text></g>
<g id="n-expressive"><text class="m c" x="282" y="640" font-size="11.5">Expressive</text></g>
<g id="n-depressive"><text class="m c" x="382" y="651.5" font-size="11.5">Depressive</text></g>

<!-- work place -->
<g id="n-backbitching"><text class="s c" x="144.2" y="661" font-size="11.6">back bitching</text></g>
<g id="n-friendships"><text class="s c" x="235" y="674" font-size="12.9">friendships</text></g>
<g id="n-confidence"><text class="s c" x="96.4" y="699.5" font-size="13.9">confidence</text></g>
<g id="n-trust"><text class="s c" x="184" y="702" font-size="15.5">trust</text></g>
<g id="n-caste-wp"><text class="s c" x="92.8" y="731" font-size="10.7">caste system</text></g>
<g id="n-level"><text class="s" x="-1" y="748" font-size="10.7">level</text></g>
<g id="n-ons"><text class="s" x="0" y="777.5" font-size="10.7">ons</text></g>
<g id="n-workplace"><text class="s c" x="240" y="743.5" font-size="15.5">work place</text></g>
<g id="n-touch"><text class="s c" x="93.6" y="825.5" font-size="15.8">touch</text></g>
<g id="n-manipulation"><text class="s c" x="182.4" y="809.5" font-size="11.7">manipulation</text></g>
<g id="n-plagiarism"><text class="s c" x="283.6" y="795" font-size="13.6">plagiarism</text></g>
<g id="n-hacking"><text class="s c" x="173.7" y="858.5" font-size="14.5">hacking</text></g>
<g id="n-blackmailing"><text class="s c" x="57" y="871" font-size="12.6">blackmailing</text></g>
<g id="n-assault"><text class="s c" x="106.8" y="896.3" font-size="12">sexual assault</text></g>
<g id="n-favouring"><text class="s c" x="244.6" y="895.7" font-size="11.6">favouring seniors and boss</text></g>

<!-- religion -->
<g id="n-alcohol"><text class="s c" x="605.4" y="362.8" font-size="11.5">alcohol</text></g>
<g id="n-clothes"><text class="s c" x="662.7" y="388" font-size="11.5">clothes</text></g>
<g id="n-food"><text class="s c" x="500" y="408" font-size="11.5">food</text></g>
<g id="n-restrictions"><text class="s c" x="619" y="424" font-size="11.7">restrictions</text></g>
<g id="n-religion"><text class="s c" x="626.5" y="458.5" font-size="11.7">religion</text></g>
<g id="n-forced"><text class="s c" x="745.6" y="463" font-size="11.7">forced conversion</text></g>
<g id="n-marriage-r"><text class="s c" x="717" y="507.5" font-size="11.7">marriage</text></g>
<g id="n-society"><text class="s c" x="422" y="515.3" font-size="11.5">society</text></g>
<g id="n-class"><text class="s c" x="537.7" y="515.3" font-size="11.5">class system</text></g>
<g id="n-people"><text class="s c" x="461.3" y="457" font-size="12.5">people</text></g>

<!-- center -->
<g id="n-emotions"><text class="s c" x="619" y="537.5" font-size="11.3">Emotions</text></g>
<g id="n-rituals"><text class="s c" x="499" y="566.5" font-size="11">Rituals</text></g>
<g id="n-censorship"><text class="s c" x="609" y="634" font-size="11.3">Censorship</text></g>
<g id="n-body"><text class="s c" x="459" y="705.5" font-size="8.2">Body</text></g>
<g id="n-children"><text class="s c" x="463" y="743.6" font-size="8">Children</text></g>
<g id="n-self2"><text class="m c" x="631" y="712" font-size="11.7">Self</text></g>
<g id="n-routines"><text class="m c" x="372.6" y="853.5" font-size="8.6">Routines</text></g>
<g id="n-collapse"><text class="m c" font-size="10.8"><tspan x="556.8" y="893.5">Collapse of</tspan><tspan x="556.8" y="908">institutions</tspan></text></g>
<g id="n-system"><text class="m c" x="736.7" y="908.8" font-size="8.9">System</text></g>
<g id="n-disobedient"><text class="m c" font-size="17.3"><tspan x="786.6" y="804.5">Disobedient</tspan><tspan x="786.6" y="828.7">Subjects</tspan></text></g>
<g id="n-whoishe"><text class="m c" x="654" y="1021" font-size="8.8">who is he?</text></g>
<g id="n-1984"><text class="s c" font-size="5.8" fill="#555"><tspan x="713.8" y="1035.7">1984, God of small</tspan><tspan x="713.8" y="1044.2">things</tspan></text></g>
<g id="n-something"><text class="s c" font-size="5.8" fill="#555"><tspan x="777" y="1031.5">Something that gives</tspan><tspan x="777" y="1040">and takes agency</tspan></text></g>
<g id="n-equality"><text class="s c" x="859" y="999.7" font-size="13">Equality</text></g>
<g id="n-property"><text class="s c" x="1044" y="954.6" font-size="9.8">property</text></g>
<g id="n-education"><text class="s c" x="1083" y="1018" font-size="9.7">Education</text></g>
<g id="n-primary"><text class="s c" x="1154" y="983" font-size="7.7" fill="#555">Primary</text></g>
<g id="n-secondary"><text class="s c" font-size="7.7" fill="#555"><tspan x="1178" y="1042.7">Secondary</tspan><tspan x="1178" y="1053.7">&amp; higher</tspan></text></g>
<g id="n-pay"><text class="s c" x="1059" y="1088" font-size="9.5">Pay</text></g>

<!-- marriage cluster -->
<g id="n-marriage"><text class="m c" x="397" y="953" font-size="11.5">Marriage</text></g>
<g id="n-family"><text class="m c" x="555.2" y="963" font-size="10.5">Family</text></g>
<g id="n-emotional"><text class="m c" x="205.3" y="958" font-size="11.5">Emotional</text></g>
<g id="n-dependencies"><text class="s c" x="297.3" y="990.5" font-size="11">Dependencies</text></g>
<g id="n-economical"><text class="m c" x="184.2" y="1003" font-size="9.3">Economical</text></g>
<g id="n-physical"><text class="m c" x="158" y="1041" font-size="9.2">Physical</text></g>
<g id="n-legal"><text class="m c" x="230" y="1057.5" font-size="10.7" font-weight="bold">Legal</text></g>
<g id="n-social"><text class="s" x="320.2" y="1033.5" font-size="11">Social restrictions</text></g>
<g id="n-makes"><text class="m c" font-size="7.7"><tspan x="277.7" y="1085.9">Makes it difficult</tspan><tspan x="277.7" y="1096.6">to step out of it</tspan></text></g>
<g id="n-indian"><text class="s c b" x="499.4" y="1083.5" font-size="11.8">Indian Household</text></g>

<!-- left bottom -->
<g id="n-it"><text class="s" x="0" y="996" font-size="15">it</text></g>
<g id="n-noorg"><text class="s c" x="76" y="1031" font-size="14">no organisation</text></g>
<g id="n-messiness"><text class="s e" x="59" y="1139" font-size="13.3">nessiness</text></g>
<g id="n-habits"><text class="s c" x="116" y="1131.5" font-size="12">habits</text></g>
<g id="n-late"><text class="s c" x="48" y="1289" font-size="14">getting late</text></g>

<!-- household tree -->
<g id="n-newgen"><text class="s c" x="340.5" y="1156" font-size="11.8">new generation</text></g>
<g id="n-expect"><text class="s c" x="488" y="1158" font-size="11.8">expectations</text></g>
<g id="n-gap"><text class="s c" x="653.5" y="1158" font-size="11.8">wide generational gap</text></g>
<g id="n-adapt"><text class="s c" font-size="11.6"><tspan x="195" y="1225">wants to adapt to current</tspan><tspan x="195" y="1242">environment and surrounding</tspan></text></g>
<g id="n-support"><text class="s" x="293.5" y="1234.5" font-size="11.6">wants support of parents</text></g>
<g id="n-wish"><text class="s c" font-size="11.6"><tspan x="195" y="1301">wish to live through</tspan><tspan x="195" y="1318">today's ideas</tspan></text></g>
<g id="n-authority"><text class="s c" font-size="11.6"><tspan x="349" y="1301">as a matter of</tspan><tspan x="349" y="1318">authority</tspan></text></g>
<g id="n-hear"><text class="s c" font-size="11.6"><tspan x="495.8" y="1225">they should hear us</tspan><tspan x="495.8" y="1242">we are always right</tspan></text></g>
<g id="n-disobey"><text class="s c" font-size="11.6"><tspan x="495.8" y="1296.5">why to disobey us</tspan><tspan x="495.8" y="1312.6">we are thinking for</tspan><tspan x="495.8" y="1329.3">them itself</tspan></text></g>
<g id="n-notunderstanding"><text class="s c" font-size="11.6"><tspan x="640.9" y="1225">results in not understanding</tspan><tspan x="640.9" y="1242">what today's kids want</tspan></text></g>
<g id="n-trapped"><text class="s c" font-size="11.6"><tspan x="645.7" y="1296.5">trapped in their</tspan><tspan x="645.7" y="1312.6">generational</tspan><tspan x="645.7" y="1329.3">thoughts and</tspan><tspan x="645.7" y="1345.4">thinking</tspan></text></g>
<g id="n-difference"><text class="s c" font-size="11.6"><tspan x="821" y="1225">difference in thinking and</tspan><tspan x="821" y="1242">understanding things</tspan></text></g>
<g id="n-hot"><text class="s c" font-size="11.6"><tspan x="823" y="1297">results in hot debates or arguments</tspan><tspan x="823" y="1313">or annoyance from either sides</tspan></text></g>

<!-- transport -->
<g id="n-issues"><text class="s c" x="1323.3" y="167.7" font-size="9">issues</text></g>
<g id="n-fights"><text class="s c" x="1384.6" y="190" font-size="9">fights</text></g>
<g id="n-female"><text class="s c" x="1357" y="243" font-size="9">female/general</text></g>
<g id="n-groupism"><text class="s c" x="1276" y="276.8" font-size="9">groupism</text></g>
<g id="n-crowd"><text class="s c" x="1300.3" y="317.5" font-size="9">crowd</text></g>
<g id="n-systematic"><text class="s c" x="1233" y="372" font-size="9">systematic</text></g>
<g id="n-random"><text class="s c" x="1365" y="394.4" font-size="9">random</text></g>
<g id="n-means"><text class="s c" x="1266.7" y="422.4" font-size="9">means of transport</text></g>
<g id="n-travel"><text class="s c" x="1161" y="451" font-size="9">travel(ing)</text></g>
<g id="n-gender"><text class="s c" x="1122" y="538.3" font-size="9">gender</text></g>

<!-- sexuality -->
<g id="n-sexuality"><rect class="sh" x="1252" y="587" width="69" height="4"/><rect x="1246" y="544" width="81" height="45" fill="#f8e2f6"/><text class="s c" x="1286.5" y="571.5" font-size="15">Sexuality</text></g>
<g id="n-hetero"><rect x="1212" y="462" width="90" height="54" rx="8" fill="#fff" stroke="#111" stroke-width=".8"/><text class="s" font-size="8.4"><tspan x="1215" y="474">Heteronormativity</tspan><tspan x="1215" y="486.2">is challenged and</tspan><tspan x="1215" y="498.2">religious sentiments</tspan><tspan x="1215" y="510.3">are hurt</tspan></text></g>
<g id="n-debate"><text class="s" font-size="8.6"><tspan x="1322" y="512">Debate and</tspan><tspan x="1322" y="525">discussion</tspan><tspan x="1322" y="538">Possibilities</tspan></text></g>
<g id="n-may"><rect class="hl" x="1377" y="454" width="152" height="13"/><text class="s" x="1378" y="464.5" font-size="9.5">May research and grow to accept</text></g>
<g id="n-set"><text class="s b" x="1549" y="466.5" font-size="11">Set</text></g>
<g id="n-vigorous"><rect class="hl" x="1394" y="488" width="143" height="14"/><text class="s" x="1395" y="498.5" font-size="9.5">Debate vigorously without logic</text></g>
<g id="n-avoid"><rect class="hl" x="1394" y="523" width="107" height="14"/><text class="s" x="1395" y="534" font-size="9.5">Avoid any discussion</text></g>
<g id="n-fear"><text class="s b" font-size="8.3"><tspan x="1401.7" y="561">Fear of being</tspan><tspan x="1401.7" y="574">proved</tspan><tspan x="1401.7" y="586">wrong</tspan></text></g>
<g id="n-beliefs"><text class="s b" font-size="8.3"><tspan x="1533.7" y="557">Beliefs a</tspan><tspan x="1533.7" y="570">teaching</tspan><tspan x="1533.7" y="582">are chal</tspan></text></g>
<g id="n-inculcating"><text class="s b" font-size="8.4"><tspan x="1308" y="608">Inculcating a positive thought</tspan><tspan x="1308" y="621">process from a young age in</tspan><tspan x="1308" y="633">education and families</tspan></text></g>
<g id="n-healthy"><text class="s b" font-size="8.4"><tspan x="1451" y="620">Have a healthy talk instead</tspan><tspan x="1451" y="632">of heated argument</tspan></text></g>
<g id="n-listening"><text class="s" font-size="8.5"><tspan x="1451" y="660">By listening to them</tspan><tspan x="1451" y="673">patiently about their</tspan><tspan x="1451" y="685">upbringing</tspan></text></g>
<g id="n-questioning"><text class="s" x="1376.4" y="689" font-size="12">questioning</text></g>
<g id="n-trying"><text class="s" font-size="8.5"><tspan x="1433" y="711">Trying to understand</tspan><tspan x="1433" y="723">where the stigma lies</tspan></text></g>
<g id="n-representation"><rect x="1282" y="689" width="79" height="15" fill="#ecf23c"/><text class="s" x="1284" y="701" font-size="11">Representation</text></g>
<g id="n-profit"><text class="s" font-size="8.6"><tspan x="1209.7" y="726">In name of profit</tspan><tspan x="1209.7" y="739">or being woke</tspan></text></g>
<g id="n-cliche"><text class="s" font-size="7.5"><tspan x="1285.7" y="734.5">Cliche characters</tspan><tspan x="1285.7" y="745.5">Eg; fashion</tspan><tspan x="1285.7" y="757.5">designers</tspan><tspan x="1285.7" y="768.5">,beggars,best</tspan><tspan x="1285.7" y="779.5">friend troupe</tspan></text></g>
<g id="n-mockery"><text class="s" font-size="8.5"><tspan x="1367.8" y="745">Constant mockery</tspan><tspan x="1367.8" y="758">in Bollywood</tspan></text></g>
<g id="n-false"><text class="s" font-size="7.6"><tspan x="1462.6" y="745.5">False acceptance</tspan><tspan x="1462.6" y="756.5">(agreeing to its</tspan><tspan x="1462.6" y="768.5">existence in the</tspan><tspan x="1462.6" y="780.5">society but</tspan><tspan x="1462.6" y="791.5">opposing in their</tspan><tspan x="1462.6" y="803.5">own household)</tspan></text></g>
<g id="n-profitby"><text class="s" font-size="6.3" fill="#444"><tspan x="1202.6" y="782">Profit by</tspan><tspan x="1202.6" y="791">views and</tspan><tspan x="1202.6" y="802">engagement</tspan></text></g>
<g id="n-queerbaiting"><text class="s" x="1209.7" y="822" font-size="6.3" fill="#444">Queerbaiting</text></g>
<g id="n-sparks"><text class="s" font-size="8"><tspan x="1277.9" y="813.6">sparks discussion</tspan><tspan x="1277.9" y="825.6">and points</tspan><tspan x="1277.9" y="836.6">hypocrisy</tspan></text></g>
<g id="n-scripts"><text class="s" font-size="7" fill="#444"><tspan x="1277.9" y="861.2">Using better scripts which</tspan><tspan x="1277.9" y="872.2">add to the character not a</tspan><tspan x="1277.9" y="883.2">prop.</tspan></text></g>

<!-- caste -->
<g id="n-caste"><rect x="1411" y="1189" width="121" height="48" fill="#474747"/><text class="s c" x="1471.5" y="1216.8" font-size="10.5" font-weight="bold" fill="#fff">THE CASTE SYSTEM</text></g>
<g id="n-anything"><text class="s" font-size="6" fill="#555"><tspan x="929.7" y="1228">If anything was</tspan><tspan x="929.7" y="1237">touched in a house or</tspan><tspan x="929.7" y="1246">temple it must be</tspan><tspan x="929.7" y="1255">washed immediately</tspan></text></g>
<g id="n-contact"><text class="s" font-size="6" fill="#555"><tspan x="953.5" y="1285">If they come in</tspan><tspan x="953.5" y="1294">contact that</tspan><tspan x="953.5" y="1302">varna must be</tspan><tspan x="953.5" y="1311">cleansed</tspan></text></g>
<g id="n-nocontacts"><text class="s" font-size="6" fill="#555"><tspan x="1055" y="1244">no contacts with</tspan><tspan x="1055" y="1254">upper castes</tspan><tspan x="1055" y="1262">people</tspan></text></g>
<g id="n-enter"><text class="s" font-size="6" fill="#555"><tspan x="1056" y="1289">not allowed to enter</tspan><tspan x="1056" y="1298">the house/ temple of</tspan><tspan x="1056" y="1307">higher varnas</tspan></text></g>
<g id="n-restrictions2"><text class="s" x="1138" y="1264" font-size="6" fill="#555">Restrictions</text></g>
<g id="n-norights"><text class="s" x="1115" y="1216" font-size="6" fill="#555">no rights in society</text></g>
<g id="n-water"><text class="s" font-size="6" fill="#555"><tspan x="1208" y="1220">not allowed to take</tspan><tspan x="1208" y="1229">water from the</tspan><tspan x="1208" y="1238">same well</tspan></text></g>
<g id="n-outcastes"><text class="s" x="1143" y="1363" font-size="6" fill="#555">the outcastes of the caste system</text></g>
<g id="n-dirty"><text class="s" font-size="6" fill="#555"><tspan x="1093" y="1382">they are too dirty to touch</tspan><tspan x="1093" y="1390">the cleanliness of the</tspan></text></g>
<g id="n-change"><text class="s" x="1441.7" y="1302" font-size="11.5">change in human behav</text></g>
<g id="n-interaction"><text class="s c" x="1453" y="1358" font-size="11">interaction</text></g>
<g id="n-occ"><rect x="1558" y="989" width="10" height="7" fill="#bbb"/><text class="s b" x="1559" y="994.5" font-size="5">Occ</text></g>
<g id="n-box-br"><rect x="1486" y="1369" width="200" height="100" rx="3" fill="none" stroke="#111" stroke-width="1.3"/></g>
</g>
</svg>
